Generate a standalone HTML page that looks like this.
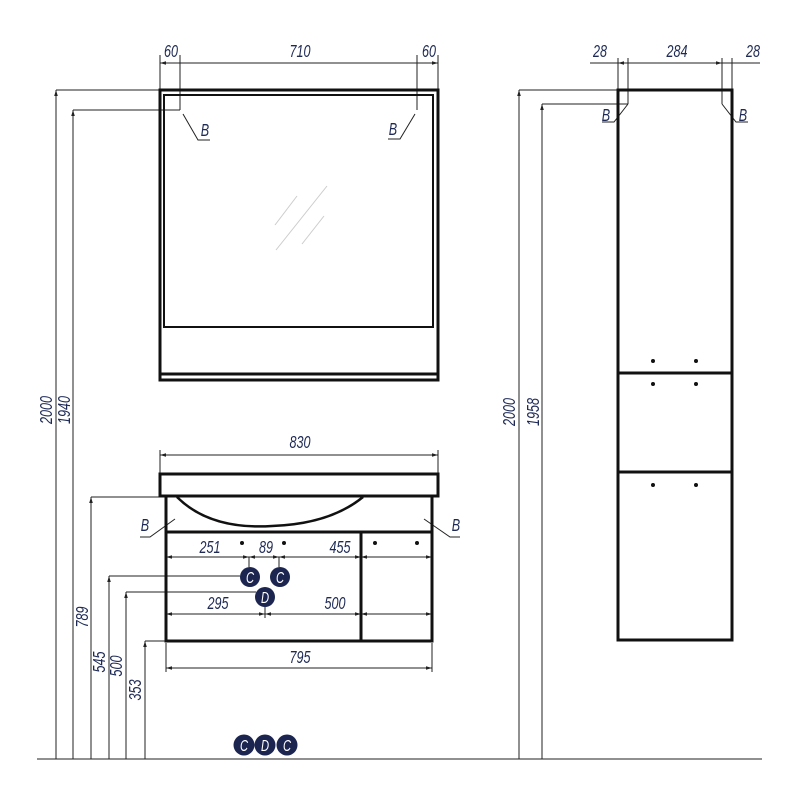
<!DOCTYPE html>
<html><head><meta charset="utf-8"><style>
html,body{margin:0;padding:0;background:#fff}
svg text{font-family:"Liberation Sans",sans-serif;font-style:italic;fill:#1e2a55;font-size:18px}
</style></head><body>
<svg width="800" height="800" viewBox="0 0 800 800" xmlns="http://www.w3.org/2000/svg">
<defs><marker id="a" viewBox="0 0 10 10" refX="10" refY="5" markerWidth="8" markerHeight="6" orient="auto-start-reverse"><path d="M0,2 L10,5 L0,8" fill="#222"/></marker></defs>
<g stroke="#222" stroke-width="1" fill="none">
<line x1="37" y1="759" x2="762" y2="759"/>
<line x1="160" y1="63" x2="438" y2="63" marker-start="url(#a)" marker-end="url(#a)"/>
<line x1="160" y1="55" x2="160" y2="90"/><line x1="180" y1="55" x2="180" y2="110"/>
<line x1="417" y1="55" x2="417" y2="110"/><line x1="438" y1="55" x2="438" y2="90"/>
<line x1="56" y1="90" x2="160" y2="90"/><line x1="73" y1="110" x2="180" y2="110"/>
<line x1="56" y1="759" x2="56" y2="90" marker-end="url(#a)"/>
<line x1="73" y1="759" x2="73" y2="110" marker-end="url(#a)"/>
<polyline points="183,114 198,140 210,140"/><polyline points="415,114 400,139 388,139"/>
<g stroke="#ccc"><line x1="275" y1="225" x2="297" y2="196"/><line x1="276" y1="250" x2="327" y2="186"/><line x1="302" y1="244" x2="324" y2="216"/></g>
<line x1="160" y1="455" x2="438" y2="455" marker-start="url(#a)" marker-end="url(#a)"/>
<line x1="160" y1="450" x2="160" y2="474"/><line x1="438" y1="450" x2="438" y2="474"/>
<line x1="91" y1="497" x2="162" y2="497"/><line x1="91" y1="759" x2="91" y2="497" marker-end="url(#a)"/>
<line x1="109" y1="576" x2="240" y2="576"/><line x1="109" y1="759" x2="109" y2="576" marker-end="url(#a)"/>
<line x1="126" y1="592" x2="256" y2="592"/><line x1="126" y1="759" x2="126" y2="592" marker-end="url(#a)"/>
<line x1="145" y1="641" x2="166" y2="641"/><line x1="145" y1="759" x2="145" y2="641" marker-end="url(#a)"/>
<line x1="166" y1="557" x2="249" y2="557" marker-start="url(#a)" marker-end="url(#a)"/>
<line x1="249" y1="557" x2="279" y2="557" marker-start="url(#a)" marker-end="url(#a)"/>
<line x1="279" y1="557" x2="361" y2="557" marker-start="url(#a)" marker-end="url(#a)"/>
<line x1="361" y1="557" x2="432" y2="557" marker-start="url(#a)" marker-end="url(#a)"/>
<line x1="249" y1="557" x2="249" y2="567"/><line x1="279" y1="557" x2="279" y2="567"/>
<line x1="166" y1="614" x2="265" y2="614" marker-start="url(#a)" marker-end="url(#a)"/>
<line x1="265" y1="614" x2="361" y2="614" marker-start="url(#a)" marker-end="url(#a)"/>
<line x1="361" y1="614" x2="432" y2="614" marker-start="url(#a)" marker-end="url(#a)"/>
<line x1="265" y1="606" x2="265" y2="618"/>
<line x1="166" y1="668" x2="432" y2="668" marker-start="url(#a)" marker-end="url(#a)"/>
<line x1="166" y1="643" x2="166" y2="672"/><line x1="432" y1="643" x2="432" y2="672"/>
<polyline points="175,519 150,537 140,537"/><polyline points="424,519 450,537 460,537"/>
<line x1="590" y1="63" x2="760" y2="63"/>
<line x1="618" y1="63" x2="722" y2="63" marker-start="url(#a)" marker-end="url(#a)"/>
<line x1="618" y1="58" x2="618" y2="90"/><line x1="628" y1="58" x2="628" y2="104"/>
<line x1="722" y1="58" x2="722" y2="104"/><line x1="732" y1="58" x2="732" y2="90"/>
<line x1="519" y1="90" x2="618" y2="90"/><line x1="542" y1="104" x2="628" y2="104"/>
<line x1="519" y1="759" x2="519" y2="90" marker-end="url(#a)"/>
<line x1="542" y1="759" x2="542" y2="104" marker-end="url(#a)"/>
<polyline points="628,104 614,122 602,122"/><polyline points="722,104 736,122 748,122"/>
</g>
<g stroke="#111" stroke-width="3" fill="none">
<rect x="160" y="90" width="278" height="290"/>
<rect x="164" y="95" width="269" height="232" stroke-width="2"/>
<line x1="160" y1="374" x2="438" y2="374" stroke-width="3"/>
<rect x="160" y="474" width="278" height="22"/>
<rect x="166" y="496" width="266" height="145"/>
<line x1="166" y1="532" x2="432" y2="532"/>
<line x1="361" y1="532" x2="361" y2="641"/>
<path d="M177,497 Q210,530 272,526 Q330,524 363,497" stroke-width="2.5"/>
<rect x="618" y="90" width="114" height="550"/>
<line x1="618" y1="373" x2="732" y2="373"/>
<line x1="618" y1="472" x2="732" y2="472"/>
</g>
<g fill="#111">
<circle cx="242" cy="543" r="2"/><circle cx="284" cy="543" r="2"/><circle cx="375" cy="543" r="2"/><circle cx="417" cy="543" r="2"/>
<circle cx="653" cy="361" r="2"/><circle cx="696" cy="361" r="2"/><circle cx="653" cy="384" r="2"/><circle cx="696" cy="384" r="2"/>
<circle cx="653" cy="485" r="2"/><circle cx="696" cy="485" r="2"/>
</g>
<g fill="#1b2550">
<circle cx="250" cy="577" r="10"/><circle cx="280" cy="577" r="10"/><circle cx="265" cy="597" r="10"/>
<circle cx="244" cy="745" r="10.5"/><circle cx="265" cy="745" r="10.5"/><circle cx="287" cy="745" r="10.5"/>
</g>
<g text-anchor="middle">
<text transform="translate(250,583) scale(0.7,1)" style="fill:#fff;font-size:16px">C</text>
<text transform="translate(280,583) scale(0.7,1)" style="fill:#fff;font-size:16px">C</text>
<text transform="translate(265,603) scale(0.7,1)" style="fill:#fff;font-size:16px">D</text>
<text transform="translate(244,751) scale(0.7,1)" style="fill:#fff;font-size:16px">C</text>
<text transform="translate(265,751) scale(0.7,1)" style="fill:#fff;font-size:16px">D</text>
<text transform="translate(287,751) scale(0.7,1)" style="fill:#fff;font-size:16px">C</text>
</g>
<g text-anchor="middle">
<text transform="translate(171,57) scale(0.7,1)">60</text>
<text transform="translate(300,57) scale(0.7,1)">710</text>
<text transform="translate(429,57) scale(0.7,1)">60</text>
<text transform="translate(205,136) scale(0.7,1)">B</text>
<text transform="translate(393,135) scale(0.7,1)">B</text>
<text transform="translate(300,448) scale(0.7,1)">830</text>
<text transform="translate(145,531) scale(0.7,1)">B</text>
<text transform="translate(456,531) scale(0.7,1)">B</text>
<text transform="translate(210,553) scale(0.7,1)">251</text>
<text transform="translate(266,553) scale(0.7,1)">89</text>
<text transform="translate(340,553) scale(0.7,1)">455</text>
<text transform="translate(218,609) scale(0.7,1)">295</text>
<text transform="translate(335,609) scale(0.7,1)">500</text>
<text transform="translate(300,663) scale(0.7,1)">795</text>
<text transform="translate(600,57) scale(0.7,1)">28</text>
<text transform="translate(677,57) scale(0.7,1)">284</text>
<text transform="translate(753,57) scale(0.7,1)">28</text>
<text transform="translate(606,121) scale(0.7,1)">B</text>
<text transform="translate(743,121) scale(0.7,1)">B</text>
<text transform="translate(52,410) rotate(-90) scale(0.7,1)">2000</text>
<text transform="translate(70,410) rotate(-90) scale(0.7,1)">1940</text>
<text transform="translate(88,617) rotate(-90) scale(0.7,1)">789</text>
<text transform="translate(105,662) rotate(-90) scale(0.7,1)">545</text>
<text transform="translate(122,666) rotate(-90) scale(0.7,1)">500</text>
<text transform="translate(141,690) rotate(-90) scale(0.7,1)">353</text>
<text transform="translate(515,412) rotate(-90) scale(0.7,1)">2000</text>
<text transform="translate(539,412) rotate(-90) scale(0.7,1)">1958</text>
</g>
</svg>
</body></html>
